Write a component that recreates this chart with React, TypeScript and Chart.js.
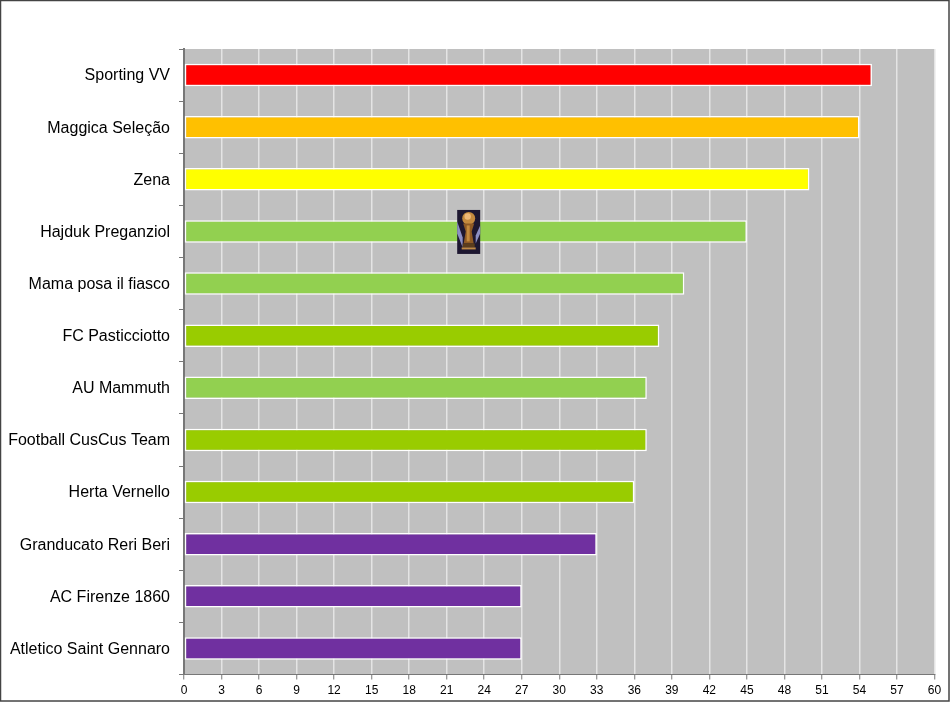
import { useEffect, useRef } from 'react';
import { Chart, registerables } from 'chart.js';

Chart.register(...registerables);

const teams = [
  'Sporting VV',
  'Maggica Seleção',
  'Zena',
  'Hajduk Preganziol',
  'Mama posa il fiasco',
  'FC Pasticciotto',
  'AU Mammuth',
  'Football CusCus Team',
  'Herta Vernello',
  'Granducato Reri Beri',
  'AC Firenze 1860',
  'Atletico Saint Gennaro',
];
const points = [55, 54, 50, 45, 40, 38, 37, 37, 36, 33, 27, 27];
const barColors = [
  '#ff0000',
  '#ffc000',
  '#ffff00',
  '#92d050',
  '#92d050',
  '#99cc00',
  '#92d050',
  '#99cc00',
  '#99cc00',
  '#7030a0',
  '#7030a0',
  '#7030a0',
];
const trophyTeam = 'Hajduk Preganziol';
const trophyValue = 22.76;

// grey plot background, under the bars and grid
const plotBackground = {
  id: 'plotBackground',
  beforeDraw(chart: Chart) {
    const { ctx, chartArea: a } = chart;
    ctx.save();
    ctx.fillStyle = '#c0c0c0';
    ctx.fillRect(a.left, a.top, a.right - a.left, a.bottom - a.top);
    ctx.restore();
  },
};

// outer frame and the little world cup picture
const decorations = {
  id: 'decorations',
  afterDraw(chart: Chart) {
    const { ctx, scales } = chart;
    ctx.save();
    ctx.strokeStyle = '#444444';
    ctx.lineWidth = 1.5;
    ctx.strokeRect(0.5, 0.5, 948.5, 700.5);

    const cx = scales.x.getPixelForValue(trophyValue);
    const cy = scales.y.getPixelForValue(teams.indexOf(trophyTeam));
    ctx.translate(cx, cy);
    ctx.fillStyle = '#1d1730';
    ctx.fillRect(-11.5, -21.5, 23, 44);
    // blue streaks behind the cup
    ctx.fillStyle = '#8c8fc4';
    ctx.beginPath();
    ctx.moveTo(-11.5, -10);
    ctx.lineTo(-6, 6);
    ctx.lineTo(-6, 16);
    ctx.lineTo(-11.5, 2);
    ctx.fill();
    ctx.beginPath();
    ctx.moveTo(11.5, -6);
    ctx.lineTo(7, 4);
    ctx.lineTo(7, 12);
    ctx.lineTo(11.5, 2);
    ctx.fill();
    // cup
    ctx.fillStyle = '#c48a3e';
    ctx.beginPath();
    ctx.arc(0, -13, 6.5, 0, Math.PI * 2);
    ctx.fill();
    ctx.fillStyle = '#eeb877';
    ctx.beginPath();
    ctx.arc(-1, -15, 3.2, 0, Math.PI * 2);
    ctx.fill();
    ctx.fillStyle = '#8f5a24';
    ctx.beginPath();
    ctx.moveTo(-5.5, -8);
    ctx.lineTo(5.5, -8);
    ctx.lineTo(3, 0);
    ctx.lineTo(5, 12);
    ctx.lineTo(-5, 12);
    ctx.lineTo(-3, 0);
    ctx.fill();
    ctx.fillStyle = '#c48a3e';
    ctx.fillRect(-2, -6, 3, 16);
    ctx.fillStyle = '#5c3d1c';
    ctx.fillRect(-6, 12, 12, 4);
    ctx.fillStyle = '#c08a45';
    ctx.fillRect(-7, 16, 14, 2);
    ctx.restore();
  },
};

export default function App() {
  const canvasRef = useRef<HTMLCanvasElement>(null);

  useEffect(() => {
    if (!canvasRef.current) return;
    document.body.style.margin = '0';

    const chart = new Chart(canvasRef.current, {
      type: 'bar',
      data: {
        labels: teams,
        datasets: [
          {
            data: points,
            backgroundColor: barColors,
            borderColor: '#ffffff',
            borderWidth: 1.5,
            borderSkipped: false,
            categoryPercentage: 1,
            barPercentage: 0.43,
          },
        ],
      },
      options: {
        indexAxis: 'y',
        responsive: false,
        animation: false,
        layout: { padding: { top: 49, right: 15.5, bottom: 0, left: 0 } },
        plugins: {
          legend: { display: false },
          title: { display: false },
          tooltip: { enabled: false },
        },
        scales: {
          x: {
            min: 0,
            max: 60,
            afterFit: (scale) => {
              scale.height = 27.5;
            },
            ticks: {
              stepSize: 3,
              maxRotation: 0,
              autoSkip: false,
              color: '#000000',
              padding: 4,
              font: { family: 'Liberation Sans', size: 12 },
            },
            grid: {
              color: '#e4e4e4',
              lineWidth: 1.5,
              tickColor: '#777777',
              tickWidth: 1,
              tickLength: 5,
            },
            border: { color: '#777777', width: 1 },
          },
          y: {
            afterFit: (scale) => {
              scale.width = 184;
            },
            ticks: {
              autoSkip: false,
              color: '#000000',
              padding: 9,
              labelOffset: 1,
              font: { family: 'Liberation Sans', size: 16 },
            },
            grid: {
              drawOnChartArea: false,
              tickColor: '#777777',
              tickWidth: 1,
              tickLength: 5,
            },
            border: { color: '#777777', width: 2 },
          },
        },
      },
      plugins: [plotBackground, decorations],
    });

    return () => {
      chart.destroy();
    };
  }, []);

  return <canvas ref={canvasRef} width={950} height={702} style={{ display: 'block' }}></canvas>;
}
